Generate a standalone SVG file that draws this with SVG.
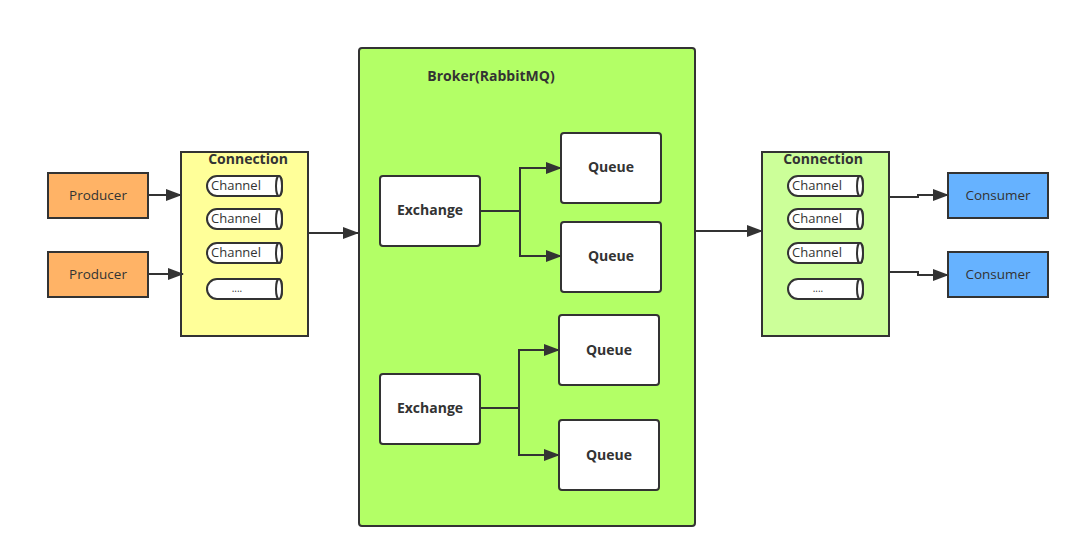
<svg xmlns="http://www.w3.org/2000/svg" width="1080" height="558" viewBox="0 0 1080 558">
<defs>
<style>
.box{stroke:#333;stroke-width:2}
.lbl{font-family:"Open Sans","Noto Sans",sans-serif;font-size:13px;fill:#333}
.b{font-weight:bold;font-size:14px}
.conn{fill:none;stroke:#333;stroke-width:2}
.ch{fill:#fff;stroke:#333;stroke-width:2}
</style>
<marker id="ah" viewBox="0 0 16 12" refX="15" refY="6" markerWidth="16" markerHeight="12" markerUnits="userSpaceOnUse" orient="auto">
<path d="M0,0 L16,6 L0,12 Z" fill="#333"/>
</marker>
<g id="chan">
<path class="ch" d="M10,0 H72 A3,10 0 0 1 72,20 H10 A10,10 0 0 1 10,0 Z"/>
<ellipse class="ch" cx="72" cy="10" rx="3" ry="10"/>
</g>
</defs>
<rect width="1080" height="558" fill="#fff"/>

<g id="producer1">
<rect class="box" x="48" y="173" width="100" height="45" fill="#FFB366"/>
<text class="lbl" x="98" y="200" text-anchor="middle" style="font-size:13.5px">Producer</text>
</g>
<g id="producer2">
<rect class="box" x="48" y="252" width="100" height="45" fill="#FFB366"/>
<text class="lbl" x="98" y="279" text-anchor="middle" style="font-size:13.5px">Producer</text>
</g>

<g id="connection-left">
<rect class="box" x="181" y="152" width="127" height="184" fill="#FFFF99"/>
<text class="lbl b" x="248" y="164" text-anchor="middle">Connection</text>
<use href="#chan" x="207" y="176"/>
<text class="lbl" x="211" y="190">Channel</text>
<use href="#chan" x="207" y="209"/>
<text class="lbl" x="211" y="223">Channel</text>
<use href="#chan" x="207" y="243"/>
<text class="lbl" x="211" y="257">Channel</text>
<use href="#chan" x="207" y="279"/>
<text class="lbl" x="237" y="292" text-anchor="middle" style="font-size:10px">....</text>
</g>

<g id="broker">
<rect class="box" x="359" y="48" width="336" height="478" rx="3" fill="#B3FF66"/>
<text class="lbl b" x="491" y="81" text-anchor="middle">Broker(RabbitMQ)</text>
</g>

<g id="exchange1">
<rect class="box" x="380" y="176" width="100" height="70" rx="3" fill="#fff"/>
<text class="lbl b" x="430" y="215" text-anchor="middle">Exchange</text>
</g>
<g id="queue1">
<rect class="box" x="561" y="133" width="100" height="70" rx="3" fill="#fff"/>
<text class="lbl b" x="611" y="172" text-anchor="middle">Queue</text>
</g>
<g id="queue2">
<rect class="box" x="561" y="222" width="100" height="70" rx="3" fill="#fff"/>
<text class="lbl b" x="611" y="261" text-anchor="middle">Queue</text>
</g>
<g id="exchange2">
<rect class="box" x="380" y="374" width="100" height="70" rx="3" fill="#fff"/>
<text class="lbl b" x="430" y="413" text-anchor="middle">Exchange</text>
</g>
<g id="queue3">
<rect class="box" x="559" y="315" width="100" height="70" rx="3" fill="#fff"/>
<text class="lbl b" x="609" y="355" text-anchor="middle">Queue</text>
</g>
<g id="queue4">
<rect class="box" x="559" y="420" width="100" height="70" rx="3" fill="#fff"/>
<text class="lbl b" x="609" y="460" text-anchor="middle">Queue</text>
</g>

<g id="connection-right">
<rect class="box" x="762" y="152" width="127" height="184" fill="#CCFF99"/>
<text class="lbl b" x="823" y="164" text-anchor="middle">Connection</text>
<use href="#chan" x="788" y="176"/>
<text class="lbl" x="792" y="190">Channel</text>
<use href="#chan" x="788" y="209"/>
<text class="lbl" x="792" y="223">Channel</text>
<use href="#chan" x="788" y="243"/>
<text class="lbl" x="792" y="257">Channel</text>
<use href="#chan" x="788" y="279"/>
<text class="lbl" x="818" y="292" text-anchor="middle" style="font-size:10px">....</text>
</g>

<g id="consumer1">
<rect class="box" x="948" y="173" width="100" height="45" fill="#66B2FF"/>
<text class="lbl" x="998" y="200" text-anchor="middle" style="font-size:13.5px">Consumer</text>
</g>
<g id="consumer2">
<rect class="box" x="948" y="252" width="100" height="45" fill="#66B2FF"/>
<text class="lbl" x="998" y="279" text-anchor="middle" style="font-size:13.5px">Consumer</text>
</g>

<g id="connectors">
<path class="conn" d="M148,195 H181" marker-end="url(#ah)"/>
<path class="conn" d="M148,274 H183" marker-end="url(#ah)"/>
<path class="conn" d="M308,233 H358" marker-end="url(#ah)"/>
<path class="conn" d="M480,211 H520 V168 H561" marker-end="url(#ah)"/>
<path class="conn" d="M520,211 V256 H561" marker-end="url(#ah)"/>
<path class="conn" d="M480,408 H519 V350 H559" marker-end="url(#ah)"/>
<path class="conn" d="M519,408 V455 H559" marker-end="url(#ah)"/>
<path class="conn" d="M695,231 H762" marker-end="url(#ah)"/>
<path class="conn" d="M889,197 H918 V195 H948" marker-end="url(#ah)"/>
<path class="conn" d="M889,272 H918 V275 H948" marker-end="url(#ah)"/>
</g>
</svg>
